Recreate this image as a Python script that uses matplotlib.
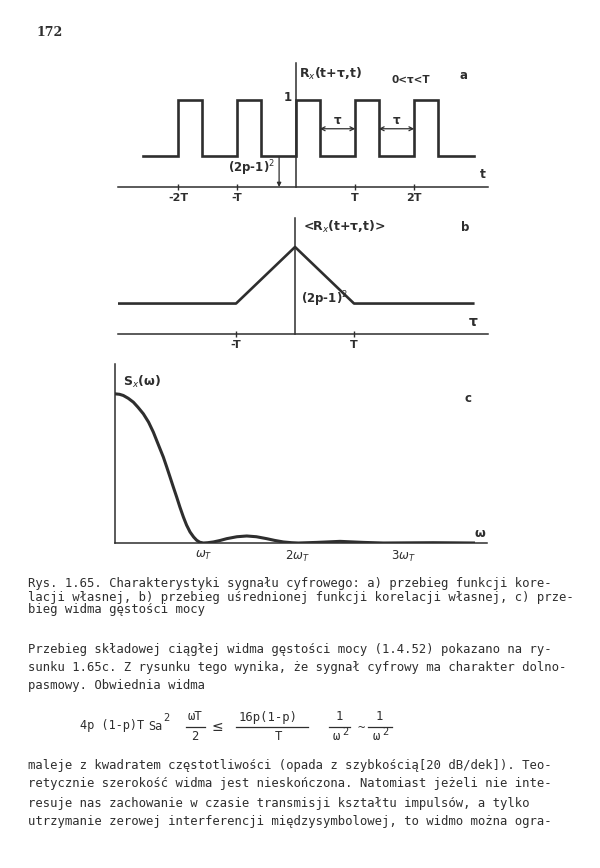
import matplotlib
matplotlib.use("Agg")
import matplotlib.pyplot as plt
from matplotlib.lines import Line2D

W, H = 600, 868
INK = "#2e2e2e"
LW = 1.9  # curve width

# --- data ---
# a) R_x(t+tau, t): rectangular pulses, time in units of T
pulse_starts = [-2, -1, 0, 1, 2]
pulse_width = 0.4          # T - tau
low_level = 0.35           # (2p-1)^2
high_level = 1.0
a_line_start, a_line_end = -2.6, 3.02
a_ticks = [-2, -1, 1, 2]
a_ticklabels = ["-2T", "-T", "T", "2T"]

# b) averaged correlation function (triangle on a pedestal)
b_tau = [-3.0, -1.0, 0.0, 1.0, 3.02]
b_vals = [0.35, 0.35, 1.0, 0.35, 0.35]
b_ticks = [-1, 1]
b_ticklabels = ["-T", "T"]

# c) power density spectrum S_x(omega), omega in units of omega_T
c_omega = [0.0, 0.05, 0.094, 0.15, 0.208, 0.26, 0.321, 0.38, 0.434, 0.49, 0.547,
           0.585, 0.623, 0.66, 0.698, 0.735, 0.774, 0.81, 0.849, 0.89, 0.925,
           0.96, 1.0, 1.05, 1.113, 1.19, 1.264, 1.38, 1.491, 1.6, 1.717, 1.81,
           1.906, 2.0, 2.075, 2.283, 2.547, 2.811, 3.038, 3.3, 3.6, 3.85, 4.057]
c_vals = [1.0, 0.997, 0.989, 0.97, 0.944, 0.91, 0.866, 0.81, 0.743, 0.66, 0.576,
          0.51, 0.442, 0.375, 0.308, 0.24, 0.174, 0.12, 0.074, 0.04, 0.018,
          0.005, 0.0, 0.002, 0.007, 0.017, 0.029, 0.042, 0.047, 0.042, 0.029, 0.017,
          0.007, 0.002, 0.0, 0.004, 0.011, 0.004, 0.0, 0.001, 0.002, 0.001, 0.0]
c_ticks = [1.0, 2.07, 3.26]
c_ticklabels = [r"$\omega_T$", r"$2\omega_T$", r"$3\omega_T$"]

caption = ["Rys. 1.65. Charakterystyki sygnału cyfrowego: a) przebieg funkcji kore-",
           "lacji własnej, b) przebieg uśrednionej funkcji korelacji własnej, c) prze-",
           "bieg widma gęstości mocy"]
para1 = ["Przebieg składowej ciągłej widma gęstości mocy (1.4.52) pokazano na ry-",
         "sunku 1.65c. Z rysunku tego wynika, że sygnał cyfrowy ma charakter dolno-",
         "pasmowy. Obwiednia widma"]
para2 = ["maleje z kwadratem częstotliwości (opada z szybkością[20 dB/dek]). Teo-",
         "retycznie szerokość widma jest nieskończona. Natomiast jeżeli nie inte-",
         "resuje nas zachowanie w czasie transmisji kształtu impulsów, a tylko",
         "utrzymanie zerowej interferencji międzysymbolowej, to widmo można ogra-"]


fig = plt.figure(figsize=(6, 8.68), dpi=100)
fig.patch.set_facecolor("white")


def px_axes(left, top, right, bottom):
    return fig.add_axes([left / W, 1 - bottom / H, (right - left) / W, (bottom - top) / H])


def ftext(x, y, s, **kw):
    kw.setdefault("color", INK)
    kw.setdefault("va", "center")
    fig.text(x / W, 1 - y / H, s, **kw)


def fline(x0, x1, y):
    fig.add_artist(Line2D([x0 / W, x1 / W], [1 - y / H, 1 - y / H], color=INK, lw=0.9))


def axis_style(ax, xlim, ylim):
    ax.set_xlim(*xlim)
    ax.set_ylim(*ylim)
    ax.set_facecolor("none")
    for s in ["top", "right"]:
        ax.spines[s].set_visible(False)
    for s in ["left", "bottom"]:
        ax.spines[s].set_color(INK)
        ax.spines[s].set_linewidth(1.1)
    ax.set_yticks([])


lab = dict(fontsize=8.5, fontweight="bold", color=INK)

# ---------- panel a ----------
ax = px_axes(118, 63, 488, 187)
axis_style(ax, (-3.02, 3.25), (0, 1.42))
ax.spines["left"].set_position(("data", 0))
xs, ys = [a_line_start], [low_level]
for s in pulse_starts:
    xs += [s, s, s + pulse_width, s + pulse_width]
    ys += [low_level, high_level, high_level, low_level]
xs.append(a_line_end)
ys.append(low_level)
ax.plot(xs, ys, color=INK, lw=LW, solid_joinstyle="miter")
ax.set_xticks(a_ticks)
ax.set_xticklabels(a_ticklabels, fontsize=8, fontweight="bold", color=INK)
ax.tick_params(axis="x", direction="inout", length=5, width=1, color=INK, pad=2)
for s in [0, 1]:
    ax.annotate("", xy=(s + pulse_width, 0.667), xytext=(s + 1, 0.667),
                arrowprops=dict(arrowstyle="<->", color=INK, lw=0.9,
                                shrinkA=0, shrinkB=0, mutation_scale=7))
    ax.text(s + 0.7, 0.76, "τ", ha="center", va="center", **lab)
ax.annotate("", xy=(-0.29, 0), xytext=(-0.29, low_level),
            arrowprops=dict(arrowstyle="-|>", color=INK, lw=0.9,
                            shrinkA=0, shrinkB=0, mutation_scale=6))
ax.text(-0.36, 0.22, "(2p-1)$^2$", ha="right", va="center", **lab)
ax.text(0.04, 1.3, "R$_x$(t+τ,t)", ha="left", va="center", fontsize=9,
        fontweight="bold", color=INK)
ax.text(-0.08, 1.03, "1", ha="right", va="center", **lab)
ax.text(1.95, 1.22, "0<τ<T", ha="center", va="center", fontsize=7.5,
        fontweight="bold", color=INK)
ax.text(2.83, 1.28, "a", ha="center", va="center", **lab)
ax.text(3.17, 0.07, "t", ha="center", va="bottom", fontsize=9, fontweight="bold", color=INK)

# ---------- panel b ----------
ax = px_axes(118, 218, 488, 334)
axis_style(ax, (-3.0, 3.27), (0, 1.333))
ax.spines["left"].set_position(("data", 0))
ax.plot(b_tau, b_vals, color=INK, lw=LW)
ax.set_xticks(b_ticks)
ax.set_xticklabels(b_ticklabels, fontsize=8, fontweight="bold", color=INK)
ax.tick_params(axis="x", direction="inout", length=5, width=1, color=INK, pad=2)
ax.text(0.14, 1.23, "<R$_x$(t+τ,t)>", ha="left", va="center", fontsize=9,
        fontweight="bold", color=INK)
ax.text(2.88, 1.22, "b", ha="center", va="center", **lab)
ax.text(0.1, 0.4, "(2p-1)$^2$", ha="left", va="center", **lab)
ax.text(3.02, 0.06, "τ", ha="center", va="bottom", fontsize=10, fontweight="bold", color=INK)

# ---------- panel c ----------
ax = px_axes(115, 364, 487, 543)
axis_style(ax, (0, 4.21), (0, 1.2))
ax.plot(c_omega, c_vals, color=INK, lw=2.2)
ax.set_xticks(c_ticks)
ax.set_xticklabels(c_ticklabels, fontsize=8.5, color=INK)
ax.tick_params(axis="x", length=0, pad=4)
ax.text(0.09, 1.08, "S$_x$(ω)", ha="left", va="center", fontsize=9,
        fontweight="bold", color=INK)
ax.text(3.99, 0.97, "c", ha="center", va="center", **lab)
ax.text(4.13, 0.02, "ω", ha="center", va="bottom", fontsize=9, fontweight="bold", color=INK)

# ---------- page text ----------
ftext(36, 33, "172", fontsize=9, fontweight="bold", family="DejaVu Serif")

mono = dict(family="DejaVu Sans Mono", fontsize=8.85)
for i, line in enumerate(caption):
    ftext(28, 584 + 13 * i, line, **mono)
for i, line in enumerate(para1):
    ftext(28, 649 + 18.5 * i, line, **mono)
for i, line in enumerate(para2):
    ftext(28, 765 + 19 * i, line, **mono)

# formula line
ftext(80, 726, "4p (1-p)T", family="DejaVu Sans Mono", fontsize=8.6)
ftext(148, 726, "Sa", family="DejaVu Sans Mono", fontsize=8.6)
ftext(163, 718, "2", family="DejaVu Sans Mono", fontsize=7.5)
ftext(195, 717, "ωT", ha="center", **mono)
fline(186, 205, 727)
ftext(195, 736, "2", ha="center", **mono)
ftext(217, 727, "≤", ha="center", fontsize=10)
ftext(268, 717, "16p(1-p)", ha="center", **mono)
fline(236, 308, 727)
ftext(278, 736, "T", ha="center", **mono)
ftext(339, 717, "1", ha="center", **mono)
fline(329, 350, 727)
ftext(336, 737, "ω", ha="center", **mono)
ftext(342, 732, "2", family="DejaVu Sans Mono", fontsize=7.5)
ftext(361, 728, "~", ha="center", **mono)
ftext(379, 717, "1", ha="center", **mono)
fline(368, 392, 727)
ftext(376, 737, "ω", ha="center", **mono)
ftext(382, 732, "2", family="DejaVu Sans Mono", fontsize=7.5)

fig.savefig("out.png", dpi=100, facecolor="white")
